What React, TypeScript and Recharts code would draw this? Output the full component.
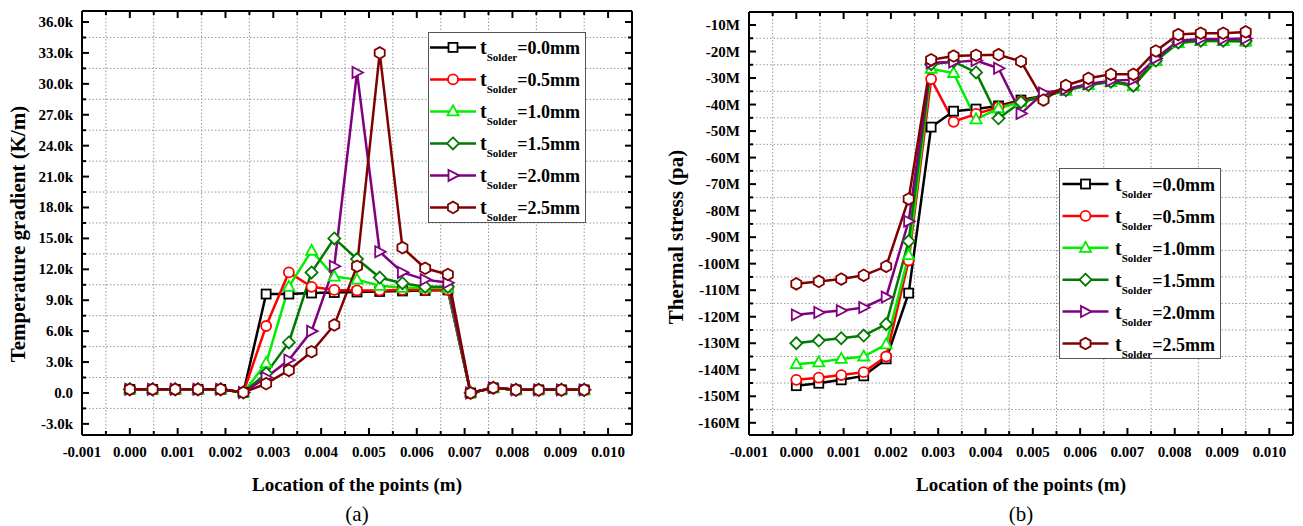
import { LineChart, Line, XAxis, YAxis, CartesianGrid } from 'recharts'

const FONT = '"Liberation Serif", "Times New Roman", serif'

// x positions of the sampled points (m)
const LOCATIONS = [
  0, 0.000475, 0.00095, 0.001425, 0.0019, 0.002375, 0.00285, 0.003325, 0.0038, 0.004275, 0.00475,
  0.005225, 0.0057, 0.006175, 0.00665, 0.007125, 0.0076, 0.008075, 0.00855, 0.009025, 0.0095,
]

// (a) temperature gradient, k K/m
const GRAD_00 = [0.35, 0.35, 0.35, 0.35, 0.35, 0.05, 9.6, 9.6, 9.7, 9.75, 9.8, 9.85, 9.9, 9.95, 10.0, 0.0, 0.5, 0.3, 0.3, 0.3, 0.3]
const GRAD_05 = [0.35, 0.35, 0.35, 0.35, 0.35, 0.05, 6.5, 11.7, 10.3, 10.0, 9.95, 9.95, 10.0, 10.0, 10.0, 0.0, 0.5, 0.3, 0.3, 0.3, 0.3]
const GRAD_10 = [0.35, 0.35, 0.35, 0.35, 0.35, 0.05, 2.9, 10.3, 13.8, 11.3, 11.0, 10.4, 10.2, 10.2, 10.2, 0.0, 0.5, 0.3, 0.3, 0.3, 0.3]
const GRAD_15 = [0.35, 0.35, 0.35, 0.35, 0.35, 0.05, 1.9, 4.9, 11.7, 15.0, 13.0, 11.2, 10.65, 10.3, 10.3, 0.0, 0.5, 0.3, 0.3, 0.3, 0.3]
const GRAD_20 = [0.35, 0.35, 0.35, 0.35, 0.35, 0.05, 1.5, 3.2, 6.0, 12.3, 31.1, 13.7, 11.7, 11.0, 10.7, 0.0, 0.5, 0.3, 0.3, 0.3, 0.3]
const GRAD_25 = [0.35, 0.35, 0.35, 0.35, 0.35, 0.05, 0.9, 2.2, 4.0, 6.6, 12.3, 33.0, 14.1, 12.1, 11.5, 0.0, 0.5, 0.3, 0.3, 0.3, 0.3]

// (b) thermal stress, M Pa
const STRESS_00 = [-146.0, -145.1, -143.8, -142.3, -135.9, -111.1, -48.5, -42.5, -41.7, -40.5, -38.3, -36.8, -34.4, -32.4, -31.2, -32.6, -23.3, -16.5, -15.8, -15.8, -16.0]
const STRESS_05 = [-143.8, -143.0, -142.0, -140.9, -135.0, -98.8, -30.4, -46.5, -43.5, -41.0, -38.8, -36.8, -34.6, -32.5, -31.3, -32.8, -23.4, -16.6, -15.9, -15.9, -16.1]
const STRESS_10 = [-137.9, -137.2, -135.9, -135.0, -130.4, -96.8, -26.5, -28.1, -45.6, -41.4, -39.1, -37.0, -34.8, -32.7, -31.5, -33.0, -23.6, -16.8, -16.1, -16.1, -16.2]
const STRESS_15 = [-130.0, -129.0, -128.1, -127.1, -122.8, -91.5, -24.8, -23.8, -27.9, -45.2, -39.1, -36.9, -34.6, -32.6, -31.4, -32.9, -23.4, -16.6, -15.9, -15.9, -16.0]
const STRESS_20 = [-119.3, -118.4, -117.7, -116.5, -112.6, -84.0, -24.2, -24.0, -23.4, -26.3, -43.4, -35.6, -34.2, -32.2, -31.0, -30.6, -22.6, -15.9, -15.3, -15.3, -15.1]
const STRESS_25 = [-107.6, -106.7, -105.8, -104.4, -101.0, -75.6, -23.1, -21.7, -21.4, -21.2, -23.7, -38.3, -32.8, -30.1, -28.6, -28.6, -19.8, -13.6, -13.1, -13.1, -12.6]

const X_TICKS = [-0.001, 0, 0.001, 0.002, 0.003, 0.004, 0.005, 0.006, 0.007, 0.008, 0.009, 0.01]
const X_MINOR = [-0.0005, 0.0005, 0.0015, 0.0025, 0.0035, 0.0045, 0.0055, 0.0065, 0.0075, 0.0085, 0.0095]
const GRAD_TICKS = [-3, 0, 3, 6, 9, 12, 15, 18, 21, 24, 27, 30, 33, 36]
const GRAD_MINOR = [-1.5, 1.5, 4.5, 7.5, 10.5, 13.5, 16.5, 19.5, 22.5, 25.5, 28.5, 31.5, 34.5]
const STRESS_TICKS = [-160, -150, -140, -130, -120, -110, -100, -90, -80, -70, -60, -50, -40, -30, -20, -10]
const STRESS_MINOR = [-155, -145, -135, -125, -115, -105, -95, -85, -75, -65, -55, -45, -35, -25, -15]

const LEGEND_LABELS = ['=0.0mm', '=0.5mm', '=1.0mm', '=1.5mm', '=2.0mm', '=2.5mm']
const COLORS = ['#000000', '#ff0000', '#00ee00', '#007a00', '#800080', '#800000']
const SHAPES = ['square', 'circle', 'triangle', 'diamond', 'right', 'hexagon']
const KEYS = ['s00', 's05', 's10', 's15', 's20', 's25']

const gradRows = LOCATIONS.map((x, i) => ({
  x, s00: GRAD_00[i], s05: GRAD_05[i], s10: GRAD_10[i], s15: GRAD_15[i], s20: GRAD_20[i], s25: GRAD_25[i],
}))
const stressRows = LOCATIONS.map((x, i) => ({
  x, s00: STRESS_00[i], s05: STRESS_05[i], s10: STRESS_10[i], s15: STRESS_15[i], s20: STRESS_20[i], s25: STRESS_25[i],
}))

function Marker({ shape, cx, cy, color }: { shape: string; cx: number; cy: number; color: string }) {
  const common = { fill: '#fff', stroke: color, strokeWidth: 1.8 }
  if (shape === 'square') return <rect x={cx - 4.5} y={cy - 4.5} width={9} height={9} {...common} />
  if (shape === 'circle') return <circle cx={cx} cy={cy} r={5} {...common} />
  if (shape === 'triangle') return <polygon points={`${cx},${cy - 6} ${cx + 5.5},${cy + 4} ${cx - 5.5},${cy + 4}`} {...common} />
  if (shape === 'diamond') return <polygon points={`${cx},${cy - 6} ${cx + 6},${cy} ${cx},${cy + 6} ${cx - 6},${cy}`} {...common} />
  if (shape === 'right') return <polygon points={`${cx + 6},${cy} ${cx - 4.5},${cy - 5.5} ${cx - 4.5},${cy + 5.5}`} {...common} />
  const pts = [0, 1, 2, 3, 4, 5]
    .map(k => {
      const a = ((-90 + 60 * k) * Math.PI) / 180
      return `${cx + 5.8 * Math.cos(a)},${cy + 5.8 * Math.sin(a)}`
    })
    .join(' ')
  return <polygon points={pts} {...common} />
}

const isIn = (list: number[], v: number) => list.some(t => Math.abs(t - v) < 1e-9)
const tickLen = (major: boolean) => (major ? 7 : 4)
const fmtX = (v: number) => v.toFixed(3)
const fmtGrad = (v: number) => (v === 0 ? '0.0' : `${v.toFixed(1)}k`)
const fmtStress = (v: number) => `${v}M`
const labelStyle = { fontFamily: FONT, fontWeight: 'bold' as const, fontSize: 15, fill: '#000' }
const frame = { stroke: '#000', strokeWidth: 2 }

function Panel(props: {
  rows: any[]
  width: number
  yAxisWidth: number
  marginTop: number
  marginRight: number
  yDomain: [number, number]
  yTicks: number[]
  yMinor: number[]
  yFormat: (v: number) => string
}) {
  const { rows, width, yAxisWidth, marginTop, marginRight, yDomain, yTicks, yMinor, yFormat } = props
  const allX = [...X_TICKS, ...X_MINOR].sort((a, b) => a - b)
  const allY = [...yTicks, ...yMinor].sort((a, b) => a - b)

  return (
    <LineChart width={width} height={526} data={rows} margin={{ top: marginTop, right: marginRight, bottom: 90, left: 0 }}>
      <CartesianGrid stroke="#999" strokeDasharray="1.5 2" horizontalValues={yMinor} verticalValues={X_MINOR} />
      {KEYS.map((k, s) => (
        <Line
          key={k}
          type="linear"
          dataKey={k}
          stroke={COLORS[s]}
          strokeWidth={2.5}
          activeDot={false}
          isAnimationActive={false}
          dot={(p: any) => <Marker key={`${k}-${p.index}`} shape={SHAPES[s]} cx={p.cx} cy={p.cy} color={COLORS[s]} />}
        />
      ))}
      <XAxis
        dataKey="x" type="number" domain={[-0.001, 0.0105]} allowDataOverflow ticks={allX} interval={0}
        height={1} tickSize={0} tickMargin={0} tickLine={false} stroke="#000" axisLine={frame}
        tick={(p: any) => {
          const v = p.payload.value
          const major = isIn(X_TICKS, v)
          return (
            <g key={`bx-${p.index}`}>
              <line x1={p.x} x2={p.x} y1={p.y} y2={p.y - tickLen(major)} stroke="#000" strokeWidth={2} />
              {major && <text x={p.x} y={p.y + 22} textAnchor="middle" {...labelStyle}>{fmtX(v)}</text>}
            </g>
          )
        }}
      />
      <XAxis
        xAxisId="top" orientation="top" dataKey="x" type="number" domain={[-0.001, 0.0105]} allowDataOverflow ticks={allX} interval={0}
        height={1} tickSize={0} tickMargin={0} tickLine={false} stroke="#000" axisLine={frame}
        tick={(p: any) => (
          <line key={`tx-${p.index}`} x1={p.x} x2={p.x} y1={p.y} y2={p.y + tickLen(isIn(X_TICKS, p.payload.value))} stroke="#000" strokeWidth={2} />
        )}
      />
      <YAxis
        type="number" domain={yDomain} allowDataOverflow ticks={allY} interval={0}
        width={yAxisWidth} tickSize={0} tickMargin={0} tickLine={false} stroke="#000" axisLine={frame}
        tick={(p: any) => {
          const v = p.payload.value
          const major = isIn(yTicks, v)
          return (
            <g key={`ly-${p.index}`}>
              <line x1={p.x} x2={p.x + tickLen(major)} y1={p.y} y2={p.y} stroke="#000" strokeWidth={2} />
              {major && <text x={p.x - 9} y={p.y + 5} textAnchor="end" {...labelStyle}>{yFormat(v)}</text>}
            </g>
          )
        }}
      />
      <YAxis
        yAxisId="right" orientation="right" type="number" domain={yDomain} allowDataOverflow ticks={allY} interval={0}
        width={1} tickSize={0} tickMargin={0} tickLine={false} stroke="#000" axisLine={frame}
        tick={(p: any) => (
          <line key={`ry-${p.index}`} x1={p.x} x2={p.x - tickLen(isIn(yTicks, p.payload.value))} y1={p.y} y2={p.y} stroke="#000" strokeWidth={2} />
        )}
      />
    </LineChart>
  )
}

function LegendBox({ left, top, width, rowStart, rowGap, lineFrom, textX }: {
  left: number; top: number; width: number; rowStart: number; rowGap: number; lineFrom: number; textX: number
}) {
  const height = 191
  return (
    <div style={{ position: 'absolute', left, top, width, height, border: '1px solid #555', background: '#fff', boxSizing: 'border-box' }}>
      <svg width={width - 2} height={height - 2} style={{ display: 'block' }}>
        {LEGEND_LABELS.map((lab, i) => {
          const cy = rowStart + rowGap * i
          return (
            <g key={lab}>
              <line x1={lineFrom} x2={lineFrom + 46} y1={cy} y2={cy} stroke={COLORS[i]} strokeWidth={2.5} />
              <Marker shape={SHAPES[i]} cx={lineFrom + 23} cy={cy} color={COLORS[i]} />
              <text x={textX} y={cy + 7} fontFamily={FONT} fontWeight="bold" fill="#000">
                <tspan fontSize={20}>t</tspan>
                <tspan fontSize={11} dy={7}>Solder</tspan>
                <tspan fontSize={18} dy={-7}>{lab}</tspan>
              </text>
            </g>
          )
        })}
      </svg>
    </div>
  )
}

const titleStyle = {
  position: 'absolute' as const,
  fontFamily: FONT,
  fontWeight: 'bold' as const,
  fontSize: 19,
  color: '#000',
  whiteSpace: 'nowrap' as const,
  lineHeight: 1,
}

export default function App() {
  return (
    <div style={{ position: 'absolute', left: 0, top: 0, width: 1303, height: 526, background: '#fff', overflow: 'hidden' }}>
      <div style={{ position: 'absolute', left: 0, top: 0 }}>
        <Panel rows={gradRows} width={650} yAxisWidth={82} marginTop={10} marginRight={17}
          yDomain={[-4.08, 37.07]} yTicks={GRAD_TICKS} yMinor={GRAD_MINOR} yFormat={fmtGrad} />
      </div>
      <div style={{ position: 'absolute', left: 650, top: 0 }}>
        <Panel rows={stressRows} width={653} yAxisWidth={99} marginTop={11} marginRight={9}
          yDomain={[-164.6, -5.1]} yTicks={STRESS_TICKS} yMinor={STRESS_MINOR} yFormat={fmtStress} />
      </div>

      <LegendBox left={428} top={32} width={158} rowStart={14.4} rowGap={32} lineFrom={1} textX={51} />
      <LegendBox left={1059} top={168} width={162} rowStart={15} rowGap={31.9} lineFrom={2.5} textX={55} />

      <div style={{ ...titleStyle, fontSize: 21, left: 18, top: 234, transform: 'translate(-50%, -50%) rotate(-90deg)' }}>
        Temperature gradient (K/m)
      </div>
      <div style={{ ...titleStyle, fontSize: 21, left: 676, top: 237, transform: 'translate(-50%, -50%) rotate(-90deg)' }}>
        Thermal stress (pa)
      </div>
      <div style={{ ...titleStyle, left: 357, top: 484, transform: 'translate(-50%, -50%)' }}>
        Location of the points (m)
      </div>
      <div style={{ ...titleStyle, left: 1021, top: 484, transform: 'translate(-50%, -50%)' }}>
        Location of the points (m)
      </div>
      <div style={{ ...titleStyle, fontWeight: 'normal', fontSize: 21, left: 357, top: 514, transform: 'translate(-50%, -50%)' }}>
        (a)
      </div>
      <div style={{ ...titleStyle, fontWeight: 'normal', fontSize: 21, left: 1021, top: 514, transform: 'translate(-50%, -50%)' }}>
        (b)
      </div>
    </div>
  )
}
